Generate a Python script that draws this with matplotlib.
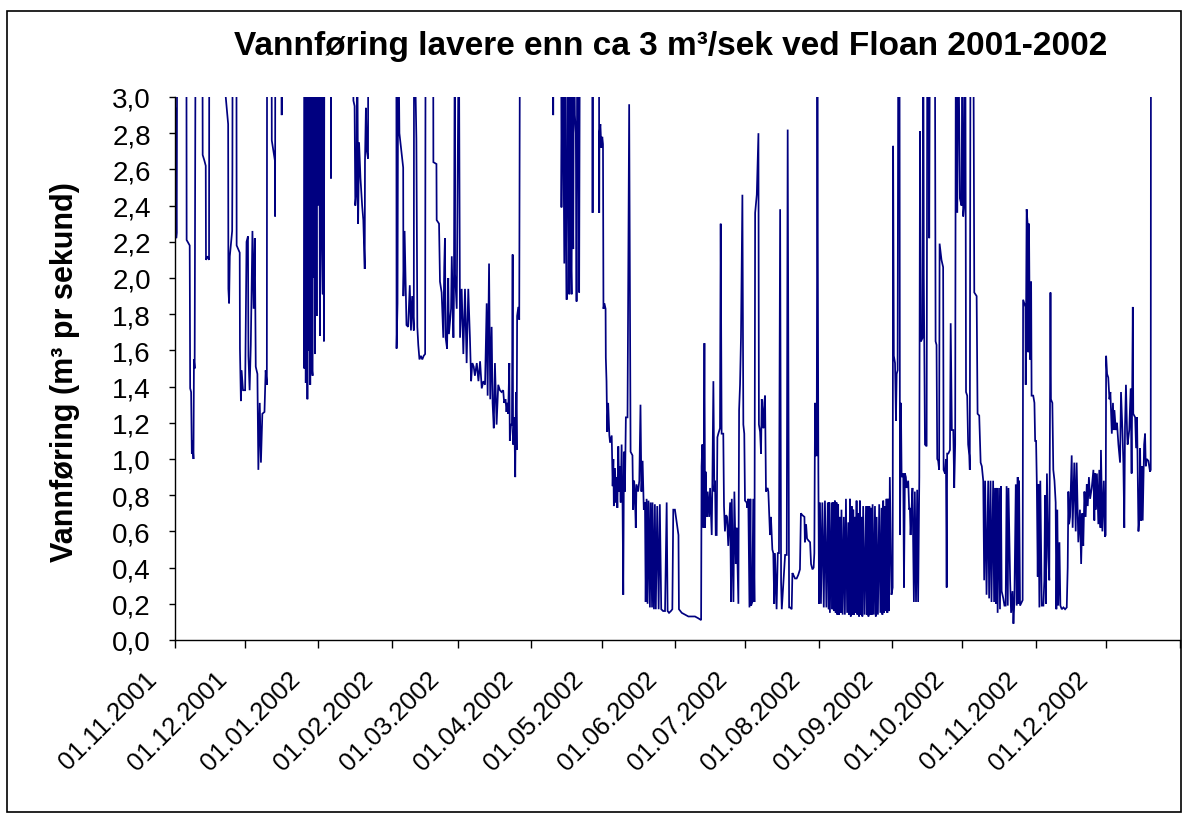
import matplotlib
matplotlib.use("Agg")
import matplotlib.pyplot as plt
import matplotlib.dates as mdates
import matplotlib.transforms as mtransforms
from matplotlib.patches import Rectangle
import numpy as np
import datetime as dt

# ---------------- data (day offset from 01.11.2001, flow m3/s) ----------------
# values above 3.0 run off the top of the chart (flow higher than 3 m3/s)
nov01_days = [0.0, 0.2, 0.5, 0.7, 0.9, 1.1, 5.0, 5.1, 6.4, 6.5, 6.6, 7.0, 7.3, 7.6, 8.0, 8.2, 8.5, 8.9,
              11.8, 11.9, 12.6, 13.2, 13.3, 14.0, 14.6, 14.7, 21.0, 22.7, 22.8, 23.1, 23.4, 24.4, 24.5, 24.6,
              26.2, 26.3, 27.6, 27.7, 28.1, 28.4, 29.0, 29.9, 30.5, 31.1, 31.3, 31.8, 32.3, 33.0, 33.5, 34.0,
              34.4, 35.1, 35.5, 36.1, 36.6, 37.2, 38.1, 38.6, 39.1, 39.2, 41.1, 41.2, 42.5, 42.6, 42.7,
              45.3, 45.4, 45.5]
nov01_flow = [3.5, 2.95, 2.9, 2.22, 2.25, 3.5, 3.5, 2.21, 2.18, 1.75, 1.39, 1.37, 1.03, 1.1, 1.0, 1.55, 1.5, 3.5,
              3.5, 2.68, 2.65, 2.62, 2.1, 2.12, 2.1, 3.5, 3.1, 2.85, 1.94, 1.86, 2.12, 2.26, 2.6, 3.5,
              3.5, 2.18, 2.14, 1.61, 1.32, 1.49, 1.38, 1.38, 2.2, 2.23, 1.57, 1.38, 1.63, 2.26, 1.83, 2.22,
              1.51, 1.47, 0.94, 1.31, 0.98, 1.25, 1.26, 1.49, 1.41, 3.5, 3.5, 2.76, 2.65, 2.34, 3.5,
              3.5, 2.9, 3.5]

dec01_days = [54.9, 55.0, 55.3, 55.6, 56.0, 56.3, 56.6, 57.0, 57.3, 57.5, 57.8, 58.2, 58.5, 58.7, 59.1, 59.4,
              59.5, 59.8, 60.2, 60.5, 61.0, 61.3, 61.6, 61.9, 62.4, 62.8, 63.0, 63.3, 63.5, 66.2, 66.3, 66.4]
dec01_flow = [3.5, 1.5, 3.5, 1.42, 3.5, 1.33, 3.5, 1.6, 3.5, 1.41, 3.5, 1.5, 1.46, 3.5, 2.0, 3.5,
              1.58, 3.5, 1.79, 3.5, 2.4, 3.5, 1.68, 3.5, 2.2, 1.91, 3.5, 1.65, 3.5, 3.5, 2.55, 3.5]

jan02_days = [75.7, 75.8, 76.3, 76.6, 77.1, 77.4, 77.8, 78.2, 78.8, 79.5, 80.0, 80.6, 80.7, 81.1, 81.5, 82.0, 82.1]
jan02_flow = [3.5, 2.98, 2.95, 2.4, 2.48, 3.5, 2.3, 2.75, 2.55, 2.4, 2.32, 2.05, 2.64, 2.94, 2.7, 2.66, 3.5]

feb02_days = [94.0, 94.1, 94.5, 94.8, 95.3, 96.9, 97.0, 97.5, 98.3, 99.0, 99.7, 100.2, 100.7, 101.4, 101.5,
              102.5, 102.9, 103.3, 103.8, 104.4, 105.0, 105.6, 106.2, 106.4]
feb02_flow = [3.5, 1.61, 1.86, 3.5, 2.8, 2.61, 1.9, 2.26, 1.74, 1.73, 1.96, 1.71, 1.9, 1.71, 3.5,
              2.77, 1.73, 1.63, 1.55, 1.57, 1.55, 1.57, 1.58, 3.5]

mar02_days = [109.6, 109.7, 111.0, 111.1, 112.1, 112.5, 113.2, 113.9, 114.3, 114.6, 114.9, 115.5, 116.0, 116.3,
              117.2, 117.5, 118.2, 118.4, 118.8, 118.9, 119.6, 120.5, 121.0, 121.7, 122.4, 123.1, 123.8, 124.5,
              125.2, 125.7, 126.2, 126.8, 127.3, 128.1, 128.8, 129.5, 130.2, 130.9, 131.6, 132.3, 132.7, 133.3,
              133.8, 134.4, 134.8, 135.3, 135.8, 136.5, 137.2, 137.9, 138.6, 139.3, 139.7, 140.3, 140.7, 141.0,
              141.4, 141.9, 142.1, 142.6, 143.0, 143.3, 143.5, 144.0, 144.4, 144.7, 145.0, 145.2, 145.7, 146.1,
              146.4]
mar02_flow = [3.5, 2.64, 2.63, 2.32, 2.30, 1.98, 1.92, 1.67, 2.06, 2.22, 1.67, 1.61, 2.00, 1.69,
              1.83, 2.12, 1.67, 1.88, 3.5, 2.02, 1.83, 3.5, 1.67, 1.94, 1.58, 1.94, 1.53, 1.94,
              1.67, 1.43, 1.53, 1.51, 1.46, 1.53, 1.43, 1.54, 1.39, 1.43, 1.41, 1.86, 1.35, 2.08,
              1.33, 1.73, 1.31, 1.17, 1.53, 1.19, 1.41, 1.38, 1.37, 1.38, 1.31, 1.33, 1.26, 1.31,
              1.25, 1.53, 1.10, 1.19, 1.19, 2.13, 1.08, 1.23, 0.90, 1.37, 1.05, 1.79, 1.84, 1.77,
              3.5]

apr02_days = [160.4, 160.5, 160.6, 163.9, 164.0, 164.5, 165.2, 165.5, 165.7, 166.2, 166.6, 166.9, 167.3, 167.6,
              167.9, 168.3, 168.6, 168.7, 169.0, 169.3, 169.7, 170.1, 170.4, 170.7, 171.1, 171.5, 171.8,
              177.1, 177.2, 177.3, 179.9]
apr02_flow = [3.5, 2.9, 3.5, 3.5, 2.39, 3.5, 2.08, 3.5, 2.55, 1.88, 3.5, 2.6, 1.91, 3.5,
              2.17, 1.91, 3.5, 2.65, 2.16, 3.5, 2.9, 2.8, 1.87, 3.5, 2.87, 1.92, 3.5,
              3.5, 2.36, 3.5, 3.5]

may02_days = [180.0, 180.1, 180.5, 180.9, 181.3, 181.6, 181.8, 182.2, 182.7, 182.8, 183.1, 183.4, 183.8, 184.3,
              184.6, 185.3, 185.7, 186.0, 186.2, 186.7, 187.1, 187.4, 187.7, 188.1, 188.5, 188.8, 189.1, 189.5,
              189.9, 190.2, 190.5, 190.9, 191.3, 192.0, 192.7, 193.3, 194.1, 194.4, 194.8, 195.1, 195.5, 195.8,
              196.5, 197.0, 197.5, 197.9, 198.4, 198.9, 199.4, 199.7, 200.1, 200.5, 200.9, 201.5, 201.8, 202.4,
              202.6, 203.2, 203.6, 204.0, 204.6, 205.2, 205.7, 206.3, 207.1]
may02_flow = [2.36, 2.8, 2.85, 2.72, 2.78, 2.74, 1.83, 1.86, 1.83, 1.56, 1.43, 1.15, 1.31, 1.13,
              1.09, 1.13, 0.85, 1.0, 0.74, 0.95, 0.76, 0.9, 0.73, 1.07, 0.82, 0.96, 0.76, 1.08,
              0.74, 0.25, 1.04, 0.82, 1.23, 1.23, 2.96, 1.04, 1.02, 0.72, 0.88, 0.82, 0.62, 0.86,
              0.82, 0.88, 1.3, 0.82, 0.99, 0.72, 0.76, 0.21, 0.78, 0.2, 0.77, 0.18, 0.76, 0.18,
              0.76, 0.17, 0.75, 0.17, 0.74, 0.17, 0.75, 0.17, 0.16]

jun02_days = [207.9, 208.6, 209.0, 209.6, 210.4, 211.0, 211.4, 212.1, 213.6, 213.8, 215.0, 216.4, 217.8, 219.2,
              220.6, 222.0, 223.2, 223.4, 223.7, 224.2, 224.6, 224.9, 225.1, 225.6, 226.0, 226.6, 227.0, 227.7,
              228.0, 228.4, 228.8, 229.1, 229.4, 229.8, 230.1, 230.5, 231.2, 231.5, 231.9, 232.6, 232.9, 233.3,
              233.8, 234.2, 234.7, 235.5, 235.9, 236.2, 236.9, 237.3, 237.9, 238.3, 239.0, 239.3, 239.7, 240.1,
              240.7, 241.1, 241.5]
jun02_flow = [0.16, 0.76, 0.16, 0.15, 0.16, 0.17, 0.72, 0.72, 0.58, 0.17, 0.15, 0.14, 0.13, 0.13,
              0.13, 0.12, 0.11, 0.96, 1.08, 0.62, 1.64, 0.62, 0.93, 0.68, 0.82, 0.68, 0.84, 0.58,
              0.9, 1.43, 0.82, 0.88, 0.58, 0.58, 1.12, 1.14, 1.17, 2.3, 1.14, 1.14, 0.74, 0.6,
              0.69, 0.68, 0.52, 0.76, 0.21, 0.78, 0.21, 0.82, 0.42, 0.62, 0.2, 1.27, 1.41, 1.67,
              2.46, 1.19, 1.14]

jul02_days = [241.8, 242.5, 242.8, 243.2, 243.7, 244.1, 244.4, 244.9, 245.3, 245.8, 246.1, 246.8, 247.5, 247.7,
              248.2, 248.6, 248.9, 249.2, 249.6, 250.0, 250.3, 250.7, 251.4, 251.7, 252.4, 252.8, 253.4, 253.8,
              254.2, 254.5, 255.2, 255.7, 256.2, 256.7, 257.1, 257.4, 258.1, 258.8, 259.5, 259.9, 260.5, 260.9,
              261.6, 261.9, 262.3, 263.0, 263.7, 264.4, 265.1, 265.5, 266.1, 267.0, 267.2, 267.7, 268.1, 268.7,
              269.4, 269.8, 270.4, 270.9, 271.2, 271.5, 271.8, 272.2, 272.5, 272.9]
jul02_flow = [0.77, 0.76, 0.73, 0.78, 0.18, 0.78, 0.19, 0.21, 0.78, 0.21, 2.36, 2.46, 2.8, 1.19,
              1.15, 1.03, 1.33, 1.27, 1.17, 1.31, 1.35, 0.82, 0.84, 0.82, 0.58, 0.68, 0.5, 0.48,
              0.2, 0.48, 0.17, 0.48, 0.48, 2.38, 0.32, 0.17, 0.32, 0.47, 0.47, 2.82, 0.18, 0.18,
              0.17, 0.37, 0.36, 0.34, 0.34, 0.36, 0.39, 0.7, 0.69, 0.68, 0.54, 0.64, 0.56, 0.55,
              0.54, 0.42, 0.39, 0.4, 0.48, 1.31, 1.02, 1.02, 3.0, 0.94]

aug02_days = [273.2, 273.6, 274.0, 274.6, 275.2, 275.7, 276.3, 276.9, 277.3, 277.5]
aug02_flow = [0.2, 0.76, 0.2, 0.76, 0.18, 0.77, 0.18, 0.76, 0.17, 0.76]

sep02_days = [277.8, 278.5, 278.85, 279.2, 279.55, 279.9, 280.25, 280.6, 280.95, 281.3, 281.65, 282.0, 282.35,
              282.7, 283.2, 283.7, 284.15, 284.6, 285.1, 285.6, 285.95, 286.3, 286.65, 287.0, 287.35, 287.7,
              288.05, 288.4, 288.75, 289.1, 289.45, 289.8, 290.15, 290.5, 290.85, 291.2, 291.55, 291.9, 292.5,
              293.1, 293.45, 293.8, 294.15, 294.5, 294.85, 295.2, 295.55, 295.9, 296.4, 296.9, 297.25, 297.6,
              298.15, 298.7, 299.2, 299.7, 300.05, 300.4, 300.75, 301.1, 301.45, 301.8, 302.15, 302.5, 302.85,
              303.2, 303.9]
sep02_flow = [0.15, 0.76, 0.17, 0.76, 0.16, 0.77, 0.15, 0.76, 0.14, 0.75, 0.14, 0.68, 0.15,
              0.72, 0.14, 0.68, 0.14, 0.78, 0.15, 0.65, 0.14, 0.78, 0.13, 0.74, 0.14, 0.72,
              0.14, 0.68, 0.15, 0.77, 0.14, 0.70, 0.13, 0.77, 0.14, 0.68, 0.13, 0.74, 0.14,
              0.74, 0.14, 0.74, 0.13, 0.74, 0.14, 0.73, 0.14, 0.75, 0.14, 0.74, 0.13, 0.68,
              0.14, 0.75, 0.15, 0.73, 0.14, 0.77, 0.15, 0.74, 0.16, 0.78, 0.15, 0.78, 0.16,
              0.90, 0.25]

oct02_days = [304.4, 304.6, 304.9, 305.4, 305.8, 306.1, 306.5, 306.8, 307.3, 307.5, 307.9, 308.2, 308.9, 309.2,
              309.6, 310.0, 310.3, 311.0, 311.4, 311.7, 312.0, 312.4, 312.8, 313.4, 313.8, 314.3, 314.8, 315.2,
              315.7, 316.0, 316.4, 317.1, 317.4, 317.6, 318.1, 318.8, 319.1, 319.6, 319.9, 320.2, 322.3, 322.6,
              323.0, 323.3, 323.7, 324.1, 324.3, 325.1, 325.8, 326.0, 326.6, 327.0, 327.3, 327.5, 328.0, 328.7,
              329.0, 329.5, 330.1, 330.5, 330.9, 331.2, 331.8, 332.2, 332.9, 333.6, 334.0, 334.3, 334.7, 335.2,
              335.5, 336.0, 336.4, 336.9, 337.1, 337.4, 338.6, 339.0, 340.0, 340.4, 341.1, 341.7, 342.2, 342.8,
              343.2, 343.6, 344.2, 344.9, 345.3, 345.9, 346.3, 347.0, 347.4]
oct02_flow = [0.29, 2.73, 1.57, 1.53, 1.21, 1.47, 1.49, 3.5, 3.5, 0.58, 1.31, 0.9, 0.92, 0.29,
              0.92, 0.9, 0.84, 0.88, 0.72, 0.73, 0.58, 0.72, 0.84, 0.21, 0.82, 0.21, 0.83, 0.21,
              0.9, 2.81, 1.65, 1.67, 3.5, 2.02, 1.08, 1.07, 3.5, 3.5, 2.22, 3.5, 3.5, 1.65,
              1.63, 1.0, 0.99, 0.94, 2.19, 2.1, 2.06, 0.94, 0.92, 1.0, 0.29, 1.03, 1.03, 1.05,
              1.75, 1.16, 1.16, 0.84, 1.08, 3.5, 2.36, 3.5, 2.44, 2.4, 3.5, 2.34, 2.4, 3.5,
              1.37, 1.35, 1.08, 1.02, 0.94, 3.5, 3.5, 1.92, 1.9, 1.25, 1.24, 0.98, 0.96, 0.88,
              0.33, 0.88, 0.25, 0.88, 0.23, 0.88, 0.21, 0.88, 0.21]

nov02_days = [347.8, 348.2, 348.5, 348.9, 349.5, 349.9, 350.3, 350.6, 351.3, 351.8, 352.3, 352.7, 353.2, 353.5,
              354.2, 354.6, 355.2, 355.6, 356.0, 356.6, 357.0, 357.4, 357.7, 358.0, 358.4, 359.1, 359.5, 359.7,
              360.2, 360.7, 360.8, 361.2, 361.6, 361.9, 362.2, 362.6, 363.1, 363.3, 364.0, 364.5, 364.8, 365.2,
              365.5, 365.9, 366.2, 366.6, 367.0, 367.6, 368.3, 368.7, 369.0, 369.4, 369.8, 370.4, 370.8, 371.3,
              371.5, 372.1, 372.5, 373.0, 373.5, 373.8, 374.2, 374.6, 375.1, 375.5, 376.1, 376.8, 377.5, 378.2,
              378.6, 378.9, 379.2, 379.6, 380.3, 380.7, 381.4, 382.0, 382.4, 383.1, 383.8, 384.3, 384.8, 385.2,
              385.7, 386.2, 386.7, 387.1, 387.6, 388.1, 388.8, 389.5, 389.9, 390.2, 390.6, 391.0, 391.6, 392.0,
              392.5, 392.7, 393.3, 393.9, 394.4, 394.7]
nov02_flow = [0.84, 0.2, 0.84, 0.15, 0.84, 0.17, 0.85, 0.27, 0.23, 0.19, 0.19, 0.85, 0.19, 0.84,
              0.33, 0.15, 0.27, 0.09, 0.21, 0.86, 0.19, 0.9, 0.2, 0.88, 0.19, 0.21, 0.22, 1.88,
              1.86, 1.84, 1.41, 2.38, 2.3, 1.59, 2.3, 1.55, 1.98, 1.35, 1.35, 1.31, 1.1, 1.1,
              0.88, 0.35, 0.86, 0.18, 0.88, 0.19, 0.19, 0.33, 0.8, 0.2, 0.92, 0.46, 0.33, 1.92,
              1.33, 1.31, 0.94, 0.88, 0.76, 0.17, 0.72, 0.19, 0.54, 0.19, 0.17, 0.18, 0.17, 0.18,
              0.4, 0.82, 0.64, 0.68, 1.02, 0.62, 0.98, 0.6, 0.98, 0.54, 0.72, 0.42, 0.7, 0.52,
              0.82, 0.68, 0.86, 0.74, 0.9, 0.78, 0.84, 0.94, 0.66, 0.92, 0.72, 0.92, 0.64, 0.94,
              0.62, 1.05, 0.6, 0.88, 0.57, 0.58]

dec02_days = [394.9, 395.3, 395.8, 396.3, 396.7, 397.3, 397.8, 398.1, 398.4, 399.0, 399.5, 400.1, 400.8, 401.2,
              401.8, 402.2, 402.6, 402.9, 403.3, 403.8, 404.0, 404.7, 405.3, 405.7, 406.2, 406.4, 407.2, 407.6,
              408.0, 408.6, 409.0, 409.3, 409.7, 410.0, 410.4, 411.0, 411.4, 411.7, 412.1, 412.8, 413.5, 413.8,
              413.9]
dec02_flow = [1.57, 1.47, 1.45, 1.33, 1.37, 1.14, 1.31, 1.16, 1.27, 1.16, 1.2, 1.08, 0.98, 1.37,
              1.16, 0.98, 0.62, 1.18, 1.41, 1.14, 1.08, 1.16, 1.39, 0.92, 1.84, 1.25, 1.23, 1.06,
              1.23, 0.6, 0.68, 1.06, 0.66, 0.96, 0.66, 1.08, 1.14, 0.96, 1.0, 0.99, 0.93, 0.94,
              3.5]

tick_labels = ["01.11.2001", "01.12.2001", "01.01.2002", "01.02.2002", "01.03.2002", "01.04.2002",
               "01.05.2002", "01.06.2002", "01.07.2002", "01.08.2002", "01.09.2002", "01.10.2002",
               "01.11.2002", "01.12.2002", ""]
tick_dates = [dt.datetime(2001, 11, 1), dt.datetime(2001, 12, 1), dt.datetime(2002, 1, 1),
              dt.datetime(2002, 2, 1), dt.datetime(2002, 3, 1), dt.datetime(2002, 4, 1),
              dt.datetime(2002, 5, 1), dt.datetime(2002, 6, 1), dt.datetime(2002, 7, 1),
              dt.datetime(2002, 8, 1), dt.datetime(2002, 9, 1), dt.datetime(2002, 10, 1),
              dt.datetime(2002, 11, 1), dt.datetime(2002, 12, 1), dt.datetime(2003, 1, 1)]
y_ticks = [0.0, 0.2, 0.4, 0.6, 0.8, 1.0, 1.2, 1.4, 1.6, 1.8, 2.0, 2.2, 2.4, 2.6, 2.8, 3.0]

title = "Vannføring lavere enn ca 3 m³/sek ved Floan 2001-2002"
ylabel = "Vannføring (m³ pr sekund)"

# ---------------- assemble ----------------
segments = [(nov01_days, nov01_flow), (dec01_days, dec01_flow), (jan02_days, jan02_flow),
            (feb02_days, feb02_flow), (mar02_days, mar02_flow), (apr02_days, apr02_flow),
            (may02_days, may02_flow), (jun02_days, jun02_flow), (jul02_days, jul02_flow),
            (aug02_days, aug02_flow), (sep02_days, sep02_flow), (oct02_days, oct02_flow),
            (nov02_days, nov02_flow), (dec02_days, dec02_flow)]
days, flow = [], []
for d, f in segments:
    assert len(d) == len(f), (len(d), len(f), d[0])
    days += d
    flow += f

start = mdates.date2num(dt.datetime(2001, 11, 1))
x = start + np.array(days)
y = np.array(flow)

plt.rcParams['font.family'] = ['Liberation Sans', 'DejaVu Sans']

W, H = 1182, 820
fig = plt.figure(figsize=(W / 100, H / 100), dpi=100)
fig.patch.set_facecolor('white')

left_px, right_px, top_px, bottom_px = 174.6, 1179.5, 98, 641
ax = fig.add_axes([left_px / W, 1 - bottom_px / H, (right_px - left_px) / W, (bottom_px - top_px) / H])

ax.plot(x, y, color='#000080', lw=1.25, solid_joinstyle='miter', clip_on=True)

ax.set_xlim(mdates.date2num(tick_dates[0]), mdates.date2num(tick_dates[-1]))
ax.set_ylim(0, 3.0)

for s in ['top', 'right']:
    ax.spines[s].set_visible(False)
for s in ['left', 'bottom']:
    ax.spines[s].set_linewidth(1.0)
    ax.spines[s].set_color('black')
ax.tick_params(axis='y', direction='out', length=4, width=1.0, pad=13)
ax.tick_params(axis='x', direction='out', length=6, width=1.0, pad=19)

ax.set_yticks(y_ticks)
ax.set_yticklabels([f"{v:.1f}".replace('.', ',') for v in y_ticks], fontsize=20)
ax.set_xticks([mdates.date2num(t) for t in tick_dates])
ax.set_xticklabels(tick_labels, rotation=45, ha='right', va='center', rotation_mode='anchor', fontsize=18.5)
# shift rotated date labels to the left (applied after tick_params so it is kept)
shift = mtransforms.ScaledTranslation(-22 / 100, 0, fig.dpi_scale_trans)
for lab in ax.get_xticklabels():
    lab.set_transform(lab.get_transform() + shift)

fig.text(671 / W, 1 - 47 / H, title, ha='center', va='center', fontsize=24, fontweight='bold')
fig.text(65 / W, 1 - 372 / H, ylabel, ha='center', va='center', rotation=90, fontsize=22, fontweight='bold')

fig.add_artist(Rectangle((7 / W, 1 - 813 / H), (1181 - 7) / W, (813 - 12) / H, transform=fig.transFigure,
                         fill=False, edgecolor='black', lw=1.2))

fig.savefig('out.png', dpi=100, facecolor='white')
